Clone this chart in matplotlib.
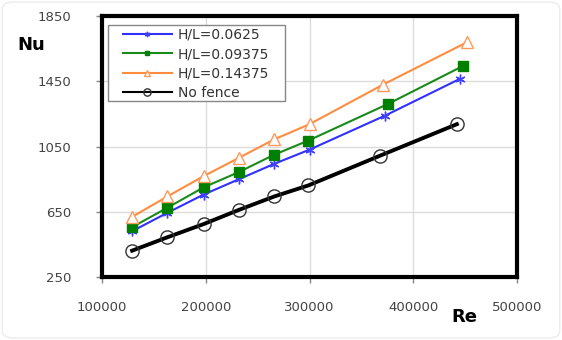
import matplotlib
matplotlib.use("Agg")
import matplotlib.pyplot as plt
from matplotlib.patches import FancyBboxPatch, Rectangle
from matplotlib.lines import Line2D

# Data
labels = ["H/L=0.0625", "H/L=0.09375", "H/L=0.14375", "No fence"]
re_blue = [129000, 163000, 198000, 232000, 266000, 300000, 373000, 445000]
nu_blue = [531, 644, 756, 850, 944, 1031, 1240, 1465]
re_green = [129000, 163000, 198000, 232000, 266000, 299000, 376000, 448000]
nu_green = [556, 675, 800, 894, 1000, 1087, 1312, 1544]
re_orange = [129000, 163000, 198000, 232000, 266000, 300000, 371000, 452000]
nu_orange = [619, 744, 869, 981, 1094, 1187, 1430, 1690]
re_none = [129000, 163000, 198000, 232000, 266000, 299000, 368000, 442000]
nu_none = [412, 494, 575, 662, 744, 812, 994, 1187]

xticks = [100000, 200000, 300000, 400000, 500000]
yticks = [250, 650, 1050, 1450, 1850]

W, H = 562, 340
fig = plt.figure(figsize=(W / 100, H / 100), dpi=100)
fig.patches.append(FancyBboxPatch((0.004, 0.006), 0.992, 0.988,
                                  boxstyle="round,pad=0,rounding_size=0.02",
                                  transform=fig.transFigure, fill=False,
                                  edgecolor="#ececec", linewidth=1.0))
ax = fig.add_axes([0.1815, 0.185, 0.7385, 0.768])

styles = [
    dict(color="#3030ff", linewidth=1.5, marker=(6, 2, 0), markersize=7,
         markeredgewidth=1.0, markeredgecolor="#4040ff"),
    dict(color="#1a8a1a", linewidth=1.5, marker="s", markersize=6.5,
         markerfacecolor="#008000", markeredgecolor="#008000"),
    dict(color="#ff8c40", linewidth=1.5, marker="^", markersize=8.5,
         markerfacecolor="white", markeredgecolor="#ff9a5a", markeredgewidth=1.0),
    dict(color="black", linewidth=2.8, marker="o", markersize=9.5,
         markerfacecolor="none", markeredgecolor="#333333", markeredgewidth=1.0),
]
series = [(re_blue, nu_blue), (re_green, nu_green), (re_orange, nu_orange), (re_none, nu_none)]
for (xs, ys), st, lab in zip(series, styles, labels):
    ax.plot(xs, ys, label=lab, zorder=3, **st)

ax.set_xlim(100000, 500000)
ax.set_ylim(250, 1850)
ax.set_xticks(xticks)
ax.set_yticks(yticks)
ax.set_xticklabels([str(v) for v in xticks])
ax.set_yticklabels([str(v) for v in yticks])
ax.grid(True, color="#dcdcdc", linewidth=1.0)
ax.set_axisbelow(True)
for s in ax.spines.values():
    s.set_linewidth(3)
    s.set_color("black")
ax.tick_params(axis="both", labelsize=9.5, labelcolor="#444444", length=4,
               width=1, color="#888888", direction="out")
ax.tick_params(axis="x", pad=13)
ax.tick_params(axis="y", pad=18)

fig.text(0.055, 0.867, "Nu", fontsize=13, fontweight="bold", ha="center", va="center")
fig.text(0.827, 0.067, "Re", fontsize=13, fontweight="bold", ha="center", va="center")

# legend frame drawn as a rectangle (pixel box 108..285 x 25..101)
fig.patches.append(Rectangle((108 / W, 1 - 101 / H), 177 / W, 76 / H,
                             transform=fig.transFigure, facecolor="white",
                             edgecolor="#888888", linewidth=1.0, zorder=5))
handles = []
for st, lab in zip(styles, labels):
    h = dict(st)
    h["linewidth"] = 1.5
    h["markersize"] = st["markersize"] * 0.55
    handles.append(Line2D([], [], label=lab, **h))
leg = fig.legend(handles=handles, loc="upper left",
                 bbox_to_anchor=(123 / W, 1 - 28 / H),
                 fontsize=10, frameon=False, borderpad=0, labelspacing=0.38,
                 handlelength=3.5, handletextpad=0.45, borderaxespad=0)
leg.set_zorder(6)
for t in leg.get_texts():
    t.set_color("#333333")

fig.savefig("out.png", dpi=100)
